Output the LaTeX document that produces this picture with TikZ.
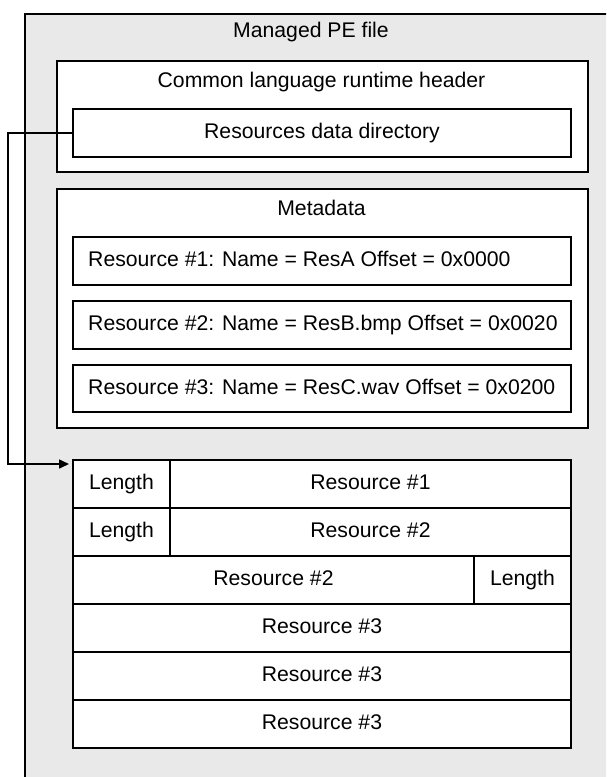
\documentclass[tikz,border=0pt]{standalone}
\usepackage{fontspec}
\setmainfont{Liberation Sans}
\usetikzlibrary{arrows.meta}
\begin{document}
\begin{tikzpicture}[x=1pt,y=-1pt,
  frame/.style={draw, line width=2pt, fill=white, inner sep=0pt, anchor=north west,
                text height=15pt, text depth=4pt,
                font=\fontsize{21.2}{25}\selectfont},
  lbl/.style={inner sep=0pt, text height=15pt, text depth=4pt,
              font=\fontsize{21.2}{25}\selectfont},
  link/.style={line width=1.6pt, -{Triangle[length=10pt,width=9pt]}}]
\useasboundingbox (0,0) rectangle (606,777);
\clip (0,0) rectangle (606,777);

% outer file area (runs off the right and bottom edges)
\node[draw, line width=2pt, fill=gray!17, inner sep=0pt, anchor=north west,
      minimum width=620pt, minimum height=800pt] (pe) at (24,13) {};
\node[lbl] (petitle) at (311,32) {Managed PE file};

% CLR header with the resources data directory
\node[frame, minimum width=531pt, minimum height=111pt] (clr) at (56,60) {};
\node[lbl] (clrtitle) at (321.5,82) {Common language runtime header};
\node[frame, minimum width=498pt, minimum height=48pt] (rdd) at (72,108) {Resources data directory};

% metadata table
\node[frame, minimum width=531pt, minimum height=239pt] (meta) at (56,188) {};
\node[lbl] (metatitle) at (321.5,210) {Metadata};
\node[frame, minimum width=498pt, minimum height=48pt] (m1) at (72,236) {};
\node[frame, minimum width=498pt, minimum height=48pt] (m2) at (72,300) {};
\node[frame, minimum width=498pt, minimum height=47pt] (m3) at (72,364) {};
\node[lbl, anchor=west] (t1) at ([xshift=16pt]m1.west) {Resource \#1: Name = ResA Offset = 0x0000};
\node[lbl, anchor=west] (t2) at ([xshift=16pt]m2.west) {Resource \#2: Name = ResB.bmp Offset = 0x0020};
\node[lbl, anchor=west] (t3) at ([xshift=16pt]m3.west) {Resource \#3: Name = ResC.wav Offset = 0x0200};

% resource data blocks
\node[frame, minimum width=97pt,  minimum height=48pt] (l1) at (72,459)  {Length};
\node[frame, minimum width=401pt, minimum height=48pt] (r1) at (169,459) {Resource \#1};
\node[frame, minimum width=97pt,  minimum height=48pt] (l2) at (72,507)  {Length};
\node[frame, minimum width=401pt, minimum height=48pt] (r2) at (169,507) {Resource \#2};
\node[frame, minimum width=401pt, minimum height=48pt] (r2b) at (72,555) {Resource \#2};
\node[frame, minimum width=97pt,  minimum height=48pt] (l3) at (473,555) {Length};
\node[frame, minimum width=498pt, minimum height=48pt] (r3a) at (72,603) {Resource \#3};
\node[frame, minimum width=498pt, minimum height=48pt] (r3b) at (72,651) {Resource \#3};
\node[frame, minimum width=498pt, minimum height=48pt] (r3c) at (72,699) {Resource \#3};

% directory points to the resource data
\coordinate (tip) at (69,464);
\draw[link] (rdd.west) -- ++(-64,0) |- (tip);
\end{tikzpicture}
\end{document}
